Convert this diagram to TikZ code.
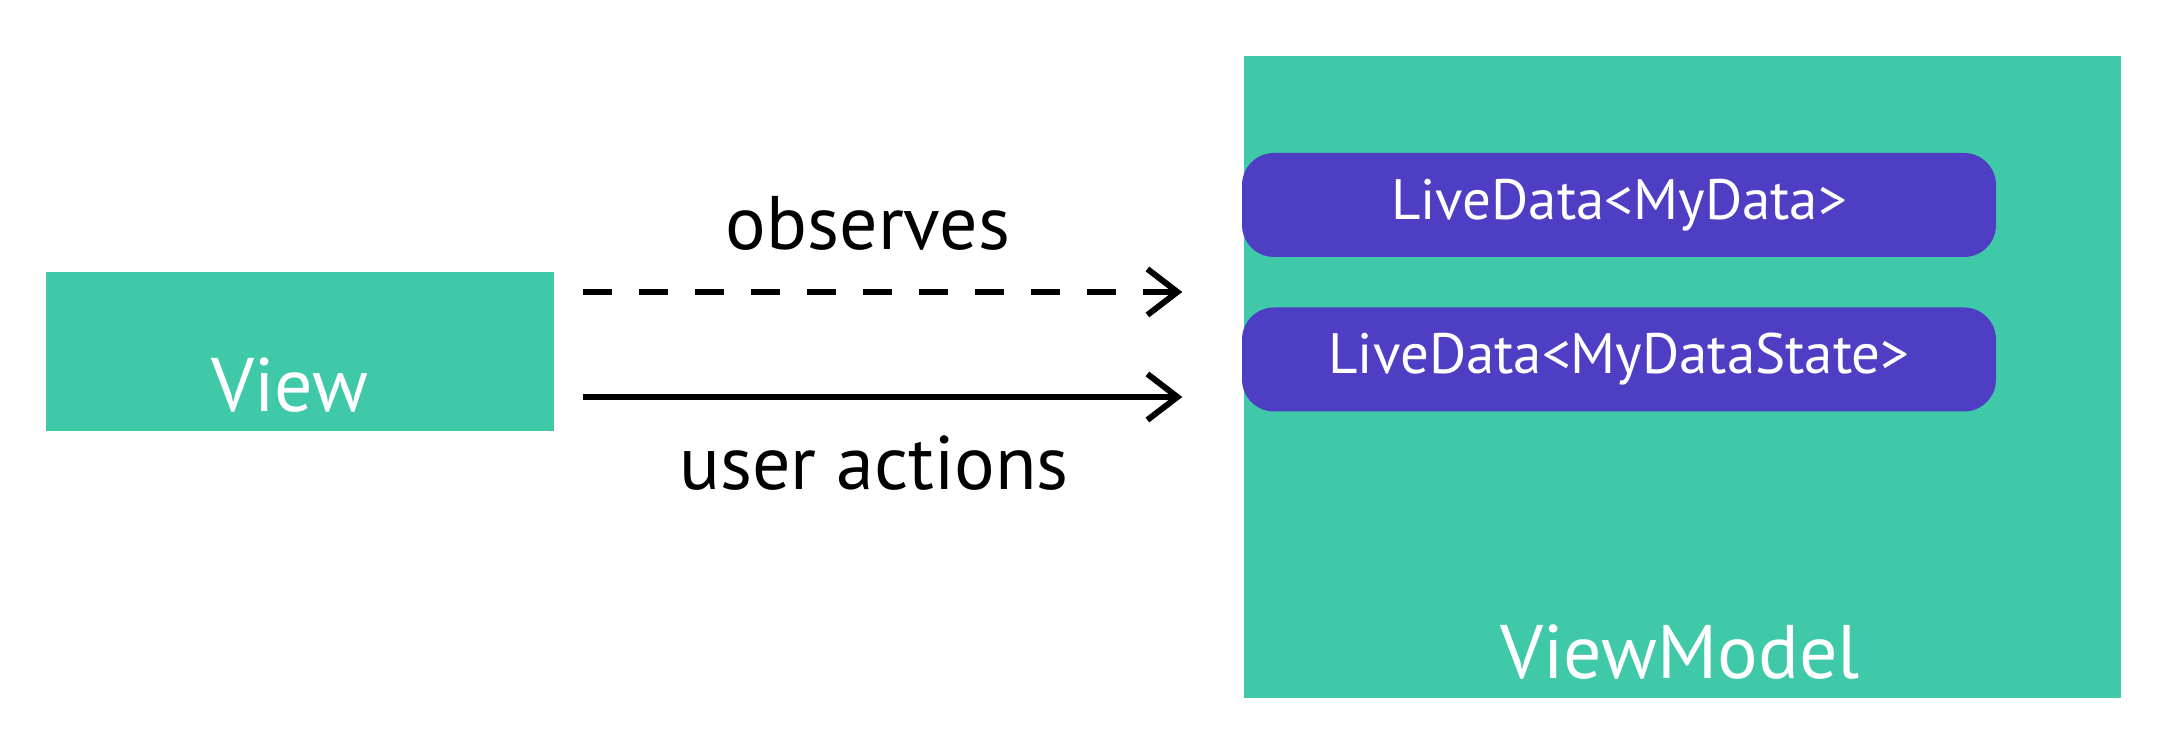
\documentclass[tikz,border=0pt]{standalone}
\usepackage{fontspec}
\setmainfont{PT Sans}
\usetikzlibrary{arrows.meta}
\definecolor{vmgreen}{RGB}{63,201,168}
\definecolor{ldpurple}{RGB}{78,62,196}
\begin{document}
\begin{tikzpicture}[
	box/.style = {fill=vmgreen, draw=none, inner sep=0pt},
	livepill/.style = {fill=ldpurple, draw=none, rounded corners=3.2mm, minimum width=7.54cm, minimum height=1.04cm, text=white, font=\fontsize{16.2}{19}\selectfont},
	boxlabel/.style = {text=white, inner sep=0pt, font=\fontsize{21.6}{26}\selectfont},
	arrowlabel/.style = {text=black, inner sep=0pt, font=\fontsize{21.6}{26}\selectfont},
	flow/.style = {line width=1.7pt, -{Straight Barb[length=3mm, width=4.6mm, line width=1.7pt]}, shorten <=2.8mm, shorten >=6.1mm}
	]
	\useasboundingbox (0,0) rectangle (21.73,7.4);
	% boxes
	\node[box, minimum width=5.08cm, minimum height=1.59cm] (view) at (3.00,3.885) {};
	\node[boxlabel, anchor=base] (viewlabel) at (2.90,3.28) {View};
	\node[box, minimum width=8.77cm, minimum height=6.42cm] (vm) at (16.825,3.63) {};
	\node[boxlabel, anchor=base] (vmlabel) at (16.80,0.61) {ViewModel};
	\node[livepill] (ld1) at (16.19,5.35) {LiveData<MyData>};
	\node[livepill] (ld2) at (16.19,3.805) {LiveData<MyDataState>};
	% arrows
	\coordinate (obs) at (0,4.48);
	\coordinate (act) at (0,3.43);
	\draw[flow, dash pattern=on 2.9mm off 2.7mm] (view.east |- obs) -- (vm.west |- obs);
	\draw[flow] (view.east |- act) -- (vm.west |- act);
	\node[arrowlabel, anchor=base] (obslabel) at (8.68,4.90) {observes};
	\node[arrowlabel, anchor=base] (actlabel) at (8.74,2.50) {user actions};
\end{tikzpicture}
\end{document}
